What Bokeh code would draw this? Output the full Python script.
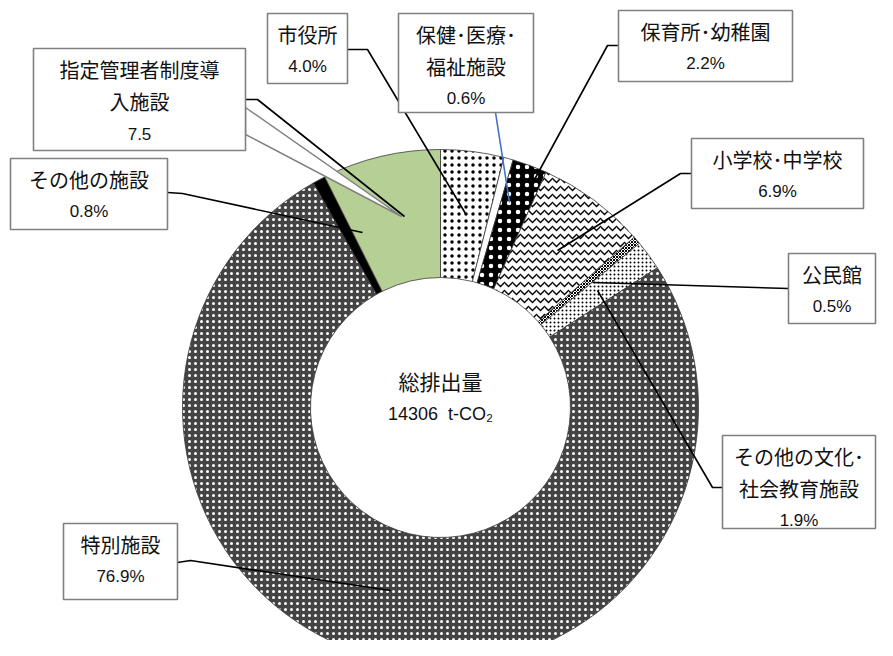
import math
from bokeh.plotting import figure
from bokeh.models import Range1d
from bokeh.core.properties import value
from bokeh.embed import file_html
from bokeh.resources import INLINE

# ---- data ----
categories = ["市役所", "保健･医療･福祉施設", "保育所･幼稚園", "小学校･中学校", "公民館",
              "その他の文化･社会教育施設", "特別施設", "その他の施設", "指定管理者制度導入施設"]
shares = [4.0, 0.6, 2.2, 6.9, 0.5, 1.9, 76.9, 0.8, 7.5]
suffixes = ["%", "%", "%", "%", "%", "%", "%", "%", ""]
label_lines = [["市役所"], ["保健･医療･", "福祉施設"], ["保育所･幼稚園"], ["小学校･中学校"], ["公民館"],
               ["その他の文化･", "社会教育施設"], ["特別施設"], ["その他の施設"], ["指定管理者制度導", "入施設"]]
center_title = "総排出量"
total_emission = 14306
unit = "t-CO₂"

# ---- styles ----
fills = ["white", "white", "black", "white", "white", "white", "#444444", "black", "#B5CF95"]
hatches = ["dot", None, "dot", "horizontal_wave", "diagonal_cross", "dot", "dot", None, None]
hatch_colors = ["black", "black", "white", "black", "black", "black", "white", "black", "black"]
hatch_scales = [7, 6, 9, 8, 3, 4, 6, 6, 6]
hatch_weights = [6, 1, 1.6, 1.3, 1, 1.4, 1.0, 1, 1]

W, H = 877, 640
p = figure(width=W, height=H, output_backend="svg", toolbar_location=None,
           x_range=Range1d(0, 877), y_range=Range1d(16, 656), min_border=0)
p.axis.visible = False
p.grid.visible = False
p.outline_line_color = None
p.background_fill_color = "white"
p.border_fill_color = "white"

def Y(y):
    return 656 - y

cx, cy = 440, Y(407)
r_out, r_in = 258, 130
total = sum(shares)
cum = 0.0
for i, v in enumerate(shares):
    a0 = math.pi / 2 - 2 * math.pi * cum / total
    cum += v
    a1 = math.pi / 2 - 2 * math.pi * cum / total
    kw = {}
    if hatches[i]:
        kw = dict(hatch_pattern=hatches[i], hatch_color=hatch_colors[i],
                  hatch_scale=hatch_scales[i], hatch_weight=hatch_weights[i])
    p.annular_wedge(x=[cx], y=[cy], inner_radius=r_in, outer_radius=r_out,
                    start_angle=[a0], end_angle=[a1], direction="clock",
                    fill_color=fills[i], line_color="#3a3a3a", line_width=0.8, **kw)

# ---- leader lines (reference pixel coords) ----
leaders = [
    [(347, 49), (367, 49), (465, 213)],
    [(495, 112), (509, 202)],
    [(618, 45), (607, 45), (528, 190)],
    [(691, 173), (680, 173), (557, 250)],
    [(788, 288), (592, 282)],
    [(722, 487), (712, 487), (597, 290)],
    [(177, 562), (190, 560), (390, 590)],
    [(167, 192), (182, 193), (362, 232)],
    [(245, 99), (257, 99), (404, 216)],
]
leader_colors = ["black", "#4472C4", "black", "black", "black", "black", "black", "black", "black"]

# callout wedge for the designated-manager label
p.patch(x=[245, 401, 245], y=[Y(107), Y(216), Y(134)], fill_color="white",
        line_color="#808080", line_width=1.5)

for pts, c in zip(leaders, leader_colors):
    p.line(x=[q[0] for q in pts], y=[Y(q[1]) for q in pts], line_color=c, line_width=1.6)

# ---- label boxes (left, top, right, bottom) ----
boxes = [
    (267, 13, 347, 83),
    (398, 13, 533, 112),
    (618, 10, 792, 81),
    (691, 138, 863, 208),
    (788, 253, 875, 323),
    (722, 435, 875, 528),
    (63, 523, 177, 599),
    (10, 158, 167, 229),
    (33, 48, 245, 150),
]
for i, (l, t, r, b) in enumerate(boxes):
    p.quad(left=[l], right=[r], top=[Y(t)], bottom=[Y(b)], fill_color="white",
           line_color="#808080", line_width=1.6)
    lines = label_lines[i] + [f"{shares[i]:.1f}{suffixes[i]}"]
    n = len(lines)
    xc = (l + r) / 2
    for k, s in enumerate(lines):
        is_num = (k == n - 1)
        p.text(x=[xc], y=[Y(t + 21 + 32 * k)], text=[s],
               text_align="center", text_baseline="middle",
               text_font=value("Liberation Sans" if is_num else "Noto Sans CJK JP"),
               text_font_size="17px" if is_num else "20px", text_color="#111111")

# ---- centre text ----
p.text(x=[cx], y=[Y(380)], text=[center_title], text_align="center", text_baseline="middle",
       text_font=value("Noto Sans CJK JP"), text_font_size="21px", text_color="#111111")
p.text(x=[cx], y=[Y(413)], text=[f"{total_emission}\u00a0\u00a0{unit}"], text_align="center",
       text_baseline="middle", text_font=value("Liberation Sans"), text_font_size="18px",
       text_color="#111111")

open("out.html", "w").write(file_html(p, INLINE))
